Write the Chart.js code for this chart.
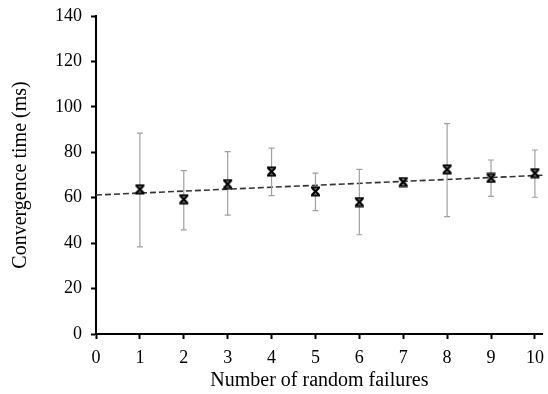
<!DOCTYPE html>
<html>
<head>
<meta charset="utf-8">
<script src="https://cdn.jsdelivr.net/npm/chart.js@4/dist/chart.umd.min.js"></script>
<style>
html,body{margin:0;padding:0;background:#fff;}
#wrap{width:548px;height:394px;position:relative;}
</style>
</head>
<body>
<div id="wrap"><canvas id="c"></canvas></div>
<script>
const failures = [1, 2, 3, 4, 5, 6, 7, 8, 9, 10];
const meanTime = [63.7, 59.3, 66.0, 71.5, 62.8, 58.1, 66.9, 72.5, 68.7, 70.8];
const upperTime = [88.4, 71.9, 80.3, 81.8, 70.8, 72.5, 67.5, 92.6, 76.6, 81.0];
const lowerTime = [38.4, 45.8, 52.3, 60.9, 54.3, 43.7, 66.3, 51.7, 60.6, 60.2];
const trendX = [0, 10.18];
const trendY = [61.2, 69.9];
const xTickValues = [0, 1, 2, 3, 4, 5, 6, 7, 8, 9, 10];
const yTickValues = [0, 20, 40, 60, 80, 100, 120, 140];

function makeMarker() {
  const s = 11, c = document.createElement('canvas');
  c.width = s; c.height = s;
  const g = c.getContext('2d');
  g.strokeStyle = '#000'; g.lineWidth = 2.4; g.lineCap = 'butt';
  g.beginPath();
  g.moveTo(2, 2); g.lineTo(9, 9);
  g.moveTo(9, 2); g.lineTo(2, 9);
  g.stroke();
  g.lineWidth = 2;
  g.beginPath();
  g.moveTo(1, 1.5); g.lineTo(10, 1.5);
  g.moveTo(1, 9.5); g.lineTo(10, 9.5);
  g.stroke();
  return c;
}

const errData = [];
failures.forEach((f, i) => {
  errData.push({x: f, y: lowerTime[i]});
  errData.push({x: f, y: upperTime[i]});
  errData.push({x: f, y: null});
});

function zeroPad(ax) { ax.paddingLeft = 0; ax.paddingRight = 0; ax.paddingTop = 0; ax.paddingBottom = 0; }

const font = 'Liberation Serif';
new Chart(document.getElementById('c'), {
  type: 'line',
  data: {
    datasets: [
      {
        label: 'trend',
        data: trendX.map((x, i) => ({x, y: trendY[i]})),
        borderColor: '#333',
        borderWidth: 1.6,
        borderDash: [6, 3],
        pointRadius: 0,
        order: 3
      },
      {
        label: 'error',
        data: errData,
        borderColor: '#a0a0a0',
        borderWidth: 1.2,
        spanGaps: false,
        pointStyle: 'line',
        pointRadius: 3,
        pointBorderColor: '#a0a0a0',
        pointBorderWidth: 1.2,
        order: 2
      },
      {
        label: 'mean',
        data: failures.map((x, i) => ({x, y: meanTime[i]})),
        showLine: false,
        pointStyle: makeMarker(),
        order: 1
      }
    ]
  },
  options: {
    responsive: true,
    maintainAspectRatio: false,
    animation: false,
    layout: {padding: {top: 16, right: 0, left: 0, bottom: 0}},
    plugins: {legend: {display: false}, tooltip: {enabled: false}},
    scales: {
      x: {
        type: 'linear',
        min: 0, max: 10.18,
        afterBuildTicks: (ax) => { ax.ticks = xTickValues.map(v => ({value: v})); },
        afterFit: (ax) => { ax.height = 60; zeroPad(ax); },
        grid: {drawOnChartArea: false, tickLength: 5, tickWidth: 2, tickColor: '#000'},
        border: {color: '#000', width: 2},
        ticks: {color: '#000', font: {family: font, size: 18}, padding: 8, maxRotation: 0, autoSkip: false},
        title: {display: true, text: 'Number of random failures', color: '#000', font: {family: font, size: 20}, padding: {top: 0, bottom: 1}}
      },
      y: {
        min: 0, max: 140,
        afterBuildTicks: (ax) => { ax.ticks = yTickValues.map(v => ({value: v})); },
        afterFit: (ax) => { ax.width = 96; zeroPad(ax); },
        grid: {drawOnChartArea: false, tickLength: 5, tickWidth: 2, tickColor: '#000'},
        border: {color: '#000', width: 2},
        ticks: {color: '#000', font: {family: font, size: 18}, padding: 9},
        title: {display: true, text: 'Convergence time (ms)', color: '#000', font: {family: font, size: 20}, padding: {top: 9, bottom: 0}}
      }
    }
  }
});
</script>
</body>
</html>
